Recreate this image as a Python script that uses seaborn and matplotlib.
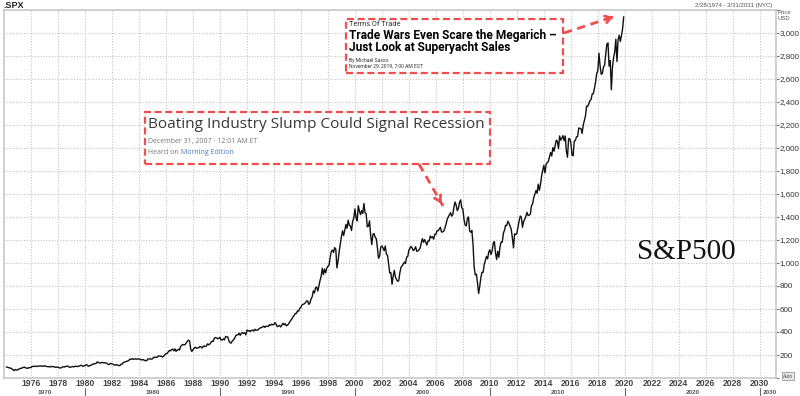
import numpy as np
import pandas as pd
import matplotlib
matplotlib.use("Agg")
import matplotlib.pyplot as plt
import seaborn as sns
from matplotlib.patches import Rectangle, FancyArrowPatch
from matplotlib.lines import Line2D
from matplotlib.ticker import FuncFormatter, MultipleLocator
import matplotlib.transforms as mtransforms

# ---------------- data: S&P 500 month-end closes, Feb 1974 .. Nov 2019 ----------------
start_year = 1974
start_month = 2
spx_1970s = [96.2, 93.98, 90.31, 87.28, 86.00, 79.31, 72.15, 63.54, 73.90, 69.97, 68.56,
             76.98, 81.59, 83.36, 87.30, 91.15, 95.19, 88.75, 86.88, 83.87, 89.04, 91.24, 90.19,
             100.86, 99.71, 102.77, 101.64, 100.18, 104.28, 103.44, 102.91, 105.24, 102.90, 102.10, 107.46,
             102.03, 99.82, 98.42, 98.44, 96.12, 100.48, 98.85, 96.77, 96.53, 92.34, 94.83, 95.10,
             89.25, 87.04, 89.21, 96.83, 97.24, 95.53, 100.68, 103.29, 102.54, 93.15, 94.70, 96.11,
             99.93, 96.28, 101.59, 101.76, 99.08, 102.91, 103.81, 109.32, 109.32, 101.82, 106.16, 107.94]
spx_1980s = [114.16, 113.66, 102.09, 106.29, 111.24, 114.24, 121.67, 122.38, 125.46, 127.47, 140.52, 135.76,
             129.55, 131.27, 136.00, 132.81, 132.59, 131.21, 130.92, 122.79, 116.18, 121.89, 126.35, 122.55,
             120.40, 113.11, 111.96, 116.44, 111.88, 109.61, 107.09, 119.51, 120.42, 133.71, 138.54, 140.64,
             145.30, 148.06, 152.96, 164.42, 162.39, 168.11, 162.56, 164.40, 166.07, 163.55, 166.40, 164.93,
             163.41, 157.06, 159.18, 160.05, 150.55, 153.18, 150.66, 166.68, 166.10, 166.09, 163.58, 167.24,
             179.63, 181.18, 180.66, 179.83, 189.55, 191.85, 190.92, 188.63, 182.08, 189.82, 202.17, 211.28,
             211.78, 226.92, 238.90, 235.52, 247.35, 250.84, 236.12, 252.93, 231.32, 243.98, 249.22, 242.17,
             274.08, 284.20, 291.70, 288.36, 290.10, 304.00, 318.66, 329.80, 321.83, 251.79, 230.30, 247.08,
             257.07, 267.82, 258.89, 261.33, 262.16, 273.50, 272.02, 261.52, 271.91, 278.97, 273.70, 277.72,
             297.47, 288.86, 294.87, 309.64, 320.52, 317.98, 346.08, 351.45, 349.15, 340.36, 345.99, 353.40]
spx_1990s = [329.08, 331.89, 339.94, 330.80, 361.23, 358.02, 356.15, 322.56, 306.05, 304.00, 322.22, 330.22,
             343.93, 367.07, 375.22, 375.35, 389.83, 371.16, 387.81, 395.43, 387.86, 392.46, 375.22, 417.09,
             408.79, 412.70, 403.69, 414.95, 415.35, 408.14, 424.21, 414.03, 417.80, 418.68, 431.35, 435.71,
             438.78, 443.38, 451.67, 440.19, 450.19, 450.53, 448.13, 463.56, 458.93, 467.83, 461.79, 466.45,
             481.61, 467.14, 445.77, 450.91, 456.50, 444.27, 458.26, 475.49, 462.69, 472.35, 453.69, 459.27,
             470.42, 487.39, 500.71, 514.71, 533.40, 544.75, 562.06, 561.88, 584.41, 581.50, 605.37, 615.93,
             636.02, 640.43, 645.50, 654.17, 669.12, 670.63, 639.95, 651.99, 687.31, 705.27, 757.02, 740.74,
             786.16, 790.82, 757.12, 801.34, 848.28, 885.14, 954.29, 899.47, 947.28, 914.62, 955.40, 970.43,
             980.28, 1049.34, 1101.75, 1111.75, 1090.82, 1133.84, 1120.67, 957.28, 1017.01, 1098.67, 1163.63, 1229.23,
             1279.64, 1238.33, 1286.37, 1335.18, 1301.84, 1372.71, 1328.72, 1320.41, 1282.71, 1362.93, 1388.91, 1469.25]
spx_2000s = [1394.46, 1366.42, 1498.58, 1452.43, 1420.60, 1454.60, 1430.83, 1517.68, 1436.51, 1429.40, 1314.95, 1320.28,
             1366.01, 1239.94, 1160.33, 1249.46, 1255.82, 1224.38, 1211.23, 1133.58, 1040.94, 1059.78, 1139.45, 1148.08,
             1130.20, 1106.73, 1147.39, 1076.92, 1067.14, 989.82, 911.62, 916.07, 815.28, 885.76, 936.31, 879.82,
             855.70, 841.15, 848.18, 916.92, 963.59, 974.50, 990.31, 1008.01, 995.97, 1050.71, 1058.20, 1111.92,
             1131.13, 1144.94, 1126.21, 1107.30, 1120.68, 1140.84, 1101.72, 1104.24, 1114.58, 1130.20, 1173.82, 1211.92,
             1181.27, 1203.60, 1180.59, 1156.85, 1191.50, 1191.33, 1234.18, 1220.33, 1228.81, 1207.01, 1249.48, 1248.29,
             1280.08, 1280.66, 1294.83, 1310.61, 1270.09, 1270.20, 1276.66, 1303.82, 1335.85, 1377.94, 1400.63, 1418.30,
             1438.24, 1406.82, 1420.86, 1482.37, 1530.62, 1503.35, 1455.27, 1473.99, 1526.75, 1549.38, 1481.14, 1468.36,
             1378.55, 1330.63, 1322.70, 1385.59, 1400.38, 1280.00, 1267.38, 1282.83, 1166.36, 968.75, 896.24, 903.25,
             825.88, 735.09, 797.87, 872.81, 919.14, 919.32, 987.48, 1020.62, 1057.08, 1036.19, 1095.63, 1115.10]
spx_2010s = [1073.87, 1104.49, 1169.43, 1186.69, 1089.41, 1030.71, 1101.60, 1049.33, 1141.20, 1183.26, 1180.55, 1257.64,
             1286.12, 1327.22, 1325.83, 1363.61, 1345.20, 1320.64, 1292.28, 1218.89, 1131.42, 1253.30, 1246.96, 1257.60,
             1312.41, 1365.68, 1408.47, 1397.91, 1310.33, 1362.16, 1379.32, 1406.58, 1440.67, 1412.16, 1416.18, 1426.19,
             1498.11, 1514.68, 1569.19, 1597.57, 1630.74, 1606.28, 1685.73, 1632.97, 1681.55, 1756.54, 1805.81, 1848.36,
             1782.59, 1859.45, 1872.34, 1883.95, 1923.57, 1960.23, 1930.67, 2003.37, 1972.29, 2018.05, 2067.56, 2058.90,
             1994.99, 2104.50, 2067.89, 2085.51, 2107.39, 2063.11, 2103.84, 1972.18, 1920.03, 2079.36, 2080.41, 2043.94,
             1940.24, 1932.23, 2059.74, 2065.30, 2096.95, 2098.86, 2173.60, 2170.95, 2168.27, 2126.15, 2198.81, 2238.83,
             2278.87, 2363.64, 2362.72, 2384.20, 2411.80, 2423.41, 2470.30, 2471.65, 2519.36, 2575.26, 2647.58, 2673.61,
             2823.81, 2713.83, 2640.87, 2648.05, 2705.27, 2718.37, 2816.29, 2901.52, 2913.98, 2711.74, 2760.17, 2506.85,
             2704.10, 2784.49, 2834.40, 2945.83, 2752.06, 2941.76, 2980.38, 2926.46, 2976.74, 3037.56, 3140.98]

year_ticks = list(range(1976, 2031, 2))
decade_labels = ["1970", "1980", "1990", "2000", "2010", "2020", "2030"]
decade_starts = [1970, 1980, 1990, 2000, 2010, 2020, 2030]

values = spx_1970s + spx_1980s + spx_1990s + spx_2000s + spx_2010s
t = [start_year + (start_month + i) / 12.0 for i in range(len(values))]
df = pd.DataFrame({"t": t, "close": values})

# ---------------- figure ----------------
W, H = 800, 396
sns.set_style("white")
plt.rcParams["font.family"] = ["Liberation Sans", "DejaVu Sans"]
fig = plt.figure(figsize=(W / 100, H / 100), dpi=100)
fig.patch.set_facecolor("white")

def fx(px):
    return px / W

def fy(py):
    return 1 - py / H

ax = fig.add_axes([fx(4), fy(378), fx(776) - fx(4), fy(10) - fy(378)])
sns.lineplot(data=df, x="t", y="close", ax=ax, color="#111111", linewidth=1.0)

XMIN, XMAX = 1974.0, 2031.2
ax.set_xlim(XMIN, XMAX)
ax.set_ylim(0, 3200)
ax.set_xlabel("")
ax.set_ylabel("")

ax.yaxis.tick_right()
ax.yaxis.set_major_locator(MultipleLocator(200))
ax.yaxis.set_major_formatter(FuncFormatter(lambda v, p: "" if v < 100 or v > 3100 else f"{int(v):,}"))
ax.tick_params(axis="y", which="major", length=2.5, width=0.8, color="#777777",
               labelsize=5.8, labelcolor="#333333", pad=0.3)
ax.set_xticks(year_ticks)
ax.set_xticklabels([str(y) for y in year_ticks], fontsize=6.2, fontweight="bold", color="#444444")
ax.tick_params(axis="x", length=0, pad=1)

ax.grid(True, which="major", color="#c4c4c4", linestyle=(0, (1, 1.5)), linewidth=0.8)
for s in ax.spines.values():
    s.set_color("#c9c9c9")
    s.set_linewidth(1.2)

# decade labels below year ticks
trans = mtransforms.blended_transform_factory(ax.transData, fig.transFigure)
for lab, d in zip(decade_labels, decade_starts):
    end = min(d + 10, XMAX)
    beg = max(d, XMIN)
    if d == 2030:
        ax.text(d + 0.25, fy(392), lab, transform=trans, fontsize=4.6, fontweight="bold",
                color="#555555", ha="left", va="center", clip_on=False)
    else:
        ax.text((beg + end) / 2, fy(392), lab, transform=trans, fontsize=4.6, fontweight="bold",
                color="#555555", ha="center", va="center", clip_on=False)
    if d > 1970:
        fig.add_artist(Line2D([d, d], [fy(388), fy(396)], transform=trans, color="#666666", lw=0.8))

# header texts
fig.text(fx(3), fy(5), ".SPX", fontsize=6.5, fontweight="bold", color="#222222", ha="left", va="center")
fig.text(fx(772), fy(5), "2/28/1974 - 3/31/2031 (NYC)", fontsize=4.3, color="#555555", ha="right", va="center")
fig.text(fx(778), fy(12), "Price", fontsize=4.3, color="#555555", ha="left", va="center")
fig.text(fx(778), fy(19), "USD", fontsize=4.3, color="#555555", ha="left", va="center")
fig.text(fx(788), fy(376), "Auto", fontsize=3.5, color="#555555", ha="center", va="center",
         bbox=dict(boxstyle="square,pad=0.25", fc="#e6e6e6", ec="#999999", lw=0.6))

# S&P500 label
fig.text(fx(686), fy(252), "S&P500", family=["Liberation Serif", "DejaVu Serif"], fontsize=21,
         color="#111111", ha="center", va="center")

red = "#f04e4e"
dash = (0, (3.2, 1.6))

def dashed_box(x0, y0, x1, y1):
    r = Rectangle((fx(x0), fy(y1)), fx(x1) - fx(x0), fy(y0) - fy(y1), transform=fig.transFigure,
                  facecolor="white", edgecolor=red, lw=1.6, linestyle=dash, zorder=5)
    fig.add_artist(r)

def dashed_arrow(x0, y0, x1, y1):
    fig.add_artist(Line2D([fx(x0), fx(x1)], [fy(y0), fy(y1)], transform=fig.transFigure,
                          color=red, lw=2.0, linestyle=(0, (3, 2)), zorder=6))
    dx, dy = x1 - x0, y1 - y0
    n = (dx ** 2 + dy ** 2) ** 0.5
    sx, sy = x1 - dx / n * 8, y1 - dy / n * 8
    fig.add_artist(FancyArrowPatch((fx(sx), fy(sy)), (fx(x1), fy(y1)), transform=fig.transFigure,
                                   arrowstyle="->,head_length=4,head_width=2.5", color=red, lw=2.0,
                                   mutation_scale=1, zorder=6))

# NPR box
dashed_box(145, 112, 490, 164)
fig.text(fx(148), fy(124), "Boating Industry Slump Could Signal Recession", family=["Open Sans", "DejaVu Sans"],
         fontsize=11.1, color="#383838", ha="left", va="center", zorder=7)
fig.text(fx(148), fy(142), "December 31, 2007 \u00b7 12:01 AM ET", family=["Open Sans", "DejaVu Sans"],
         fontsize=5.0, color="#777777", ha="left", va="center", zorder=7)
t1 = fig.text(fx(148), fy(153), "Heard on ", family=["Open Sans", "DejaVu Sans"],
              fontsize=5.0, color="#777777", ha="left", va="center", zorder=7)
fig.canvas.draw()
bb = t1.get_window_extent()
fig.text(bb.x1 / fig.dpi / fig.get_figwidth(), fy(153), "Morning Edition", family=["Open Sans", "DejaVu Sans"],
         fontsize=5.0, color="#4a7fc0", ha="left", va="center", zorder=7)
dashed_arrow(419, 164, 443, 206)

# Bloomberg box
dashed_box(346, 19, 563, 73)
fig.text(fx(349), fy(25), "Terms Of Trade", family=["Roboto", "DejaVu Sans"], fontsize=5.3,
         color="#333333", ha="left", va="center", zorder=7)
fig.text(fx(349), fy(36), "Trade Wars Even Scare the Megarich \u2013", family=["Roboto", "DejaVu Sans"],
         fontsize=8.6, fontweight="bold", color="#000000", ha="left", va="center", zorder=7)
fig.text(fx(349), fy(47.5), "Just Look at Superyacht Sales", family=["Roboto", "DejaVu Sans"],
         fontsize=8.6, fontweight="bold", color="#000000", ha="left", va="center", zorder=7)
fig.text(fx(349), fy(60.5), "By Michael Sasso", family=["Roboto", "DejaVu Sans"], fontsize=3.6,
         color="#333333", ha="left", va="center", zorder=7)
fig.text(fx(349), fy(66), "November 29, 2019, 7:00 AM EST", family=["Roboto", "DejaVu Sans"], fontsize=3.6,
         color="#333333", ha="left", va="center", zorder=7)
dashed_arrow(564, 33, 616, 16)

fig.savefig("out.png", dpi=100, facecolor="white")
